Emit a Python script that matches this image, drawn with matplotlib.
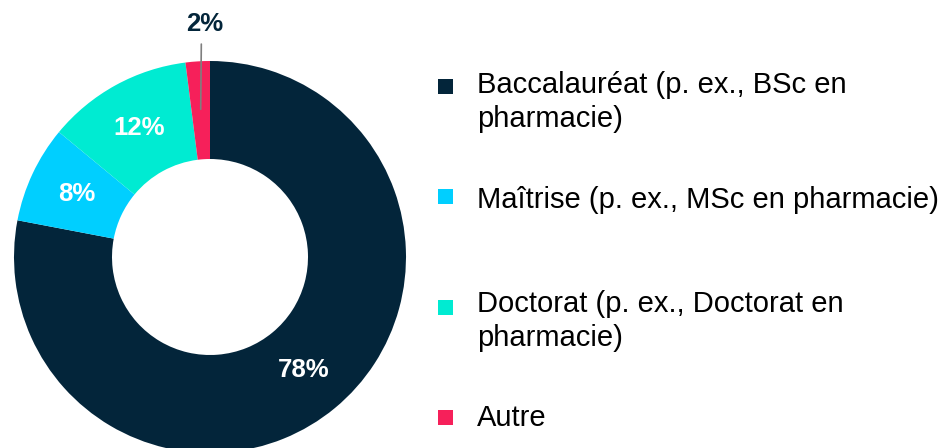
import numpy as np
import matplotlib.pyplot as plt
from matplotlib.patches import Rectangle

plt.rcParams['font.family'] = ['Liberation Sans', 'DejaVu Sans']

# donnees du graphique
categories = ['Baccalauréat (p. ex., BSc en\npharmacie)',
              'Maîtrise (p. ex., MSc en pharmacie)',
              'Doctorat (p. ex., Doctorat en\npharmacie)',
              'Autre']
values = [78, 8, 12, 2]
colors = ['#03253A', '#00CFFF', '#00EBD2', '#F6205A']

W, H = 945, 448
fig = plt.figure(figsize=(W / 100, H / 100), dpi=100)

# position du donut en pixels : centre (210, 257), rayon 196
cx, cy, r = 210, 257, 196
ax = fig.add_axes([(cx - r) / W, (H - cy - r) / H, 2 * r / W, 2 * r / H])


def fmt_pct(p):
    return '' if p < 5 else f'{p:.0f}%'


wedges, texts, autotexts = ax.pie(values, colors=colors, startangle=90,
                                  counterclock=False, autopct=fmt_pct,
                                  pctdistance=0.75,
                                  wedgeprops=dict(width=0.5, linewidth=0),
                                  textprops=dict(color='white', fontsize=18.5,
                                                 fontweight='bold'))
ax.set_xlim(-1, 1)
ax.set_ylim(-1, 1)
ax.set_aspect('equal')

# petite tranche : etiquette au-dessus avec une ligne de rappel
small = wedges[-1]
mid = np.deg2rad((small.theta1 + small.theta2) / 2)
ax.annotate(f'{values[-1]}%', xy=(0.755 * np.cos(mid), 0.755 * np.sin(mid)),
            xytext=(-0.025, 1.19), ha='center', va='center',
            fontsize=18.5, fontweight='bold', color='#03253A',
            arrowprops=dict(arrowstyle='-', color='#7F7F7F', lw=1.2,
                            shrinkA=4, shrinkB=0,
                            relpos=(0.4, 0.0)),
            annotation_clip=False)

# legende a droite
marker_y = [87, 197, 307, 417]
text_y = [102, 200, 321, 418]
for lab, col, my, ty in zip(categories, colors, marker_y, text_y):
    fig.add_artist(Rectangle(((438) / W, (H - my - 7.5) / H), 15 / W, 15 / H,
                             transform=fig.transFigure, color=col, lw=0))
    fig.text(477 / W, (H - ty) / H, lab, fontsize=21, color='#000000',
             va='center', ha='left', linespacing=1.3)

fig.savefig('out.png', dpi=100)
